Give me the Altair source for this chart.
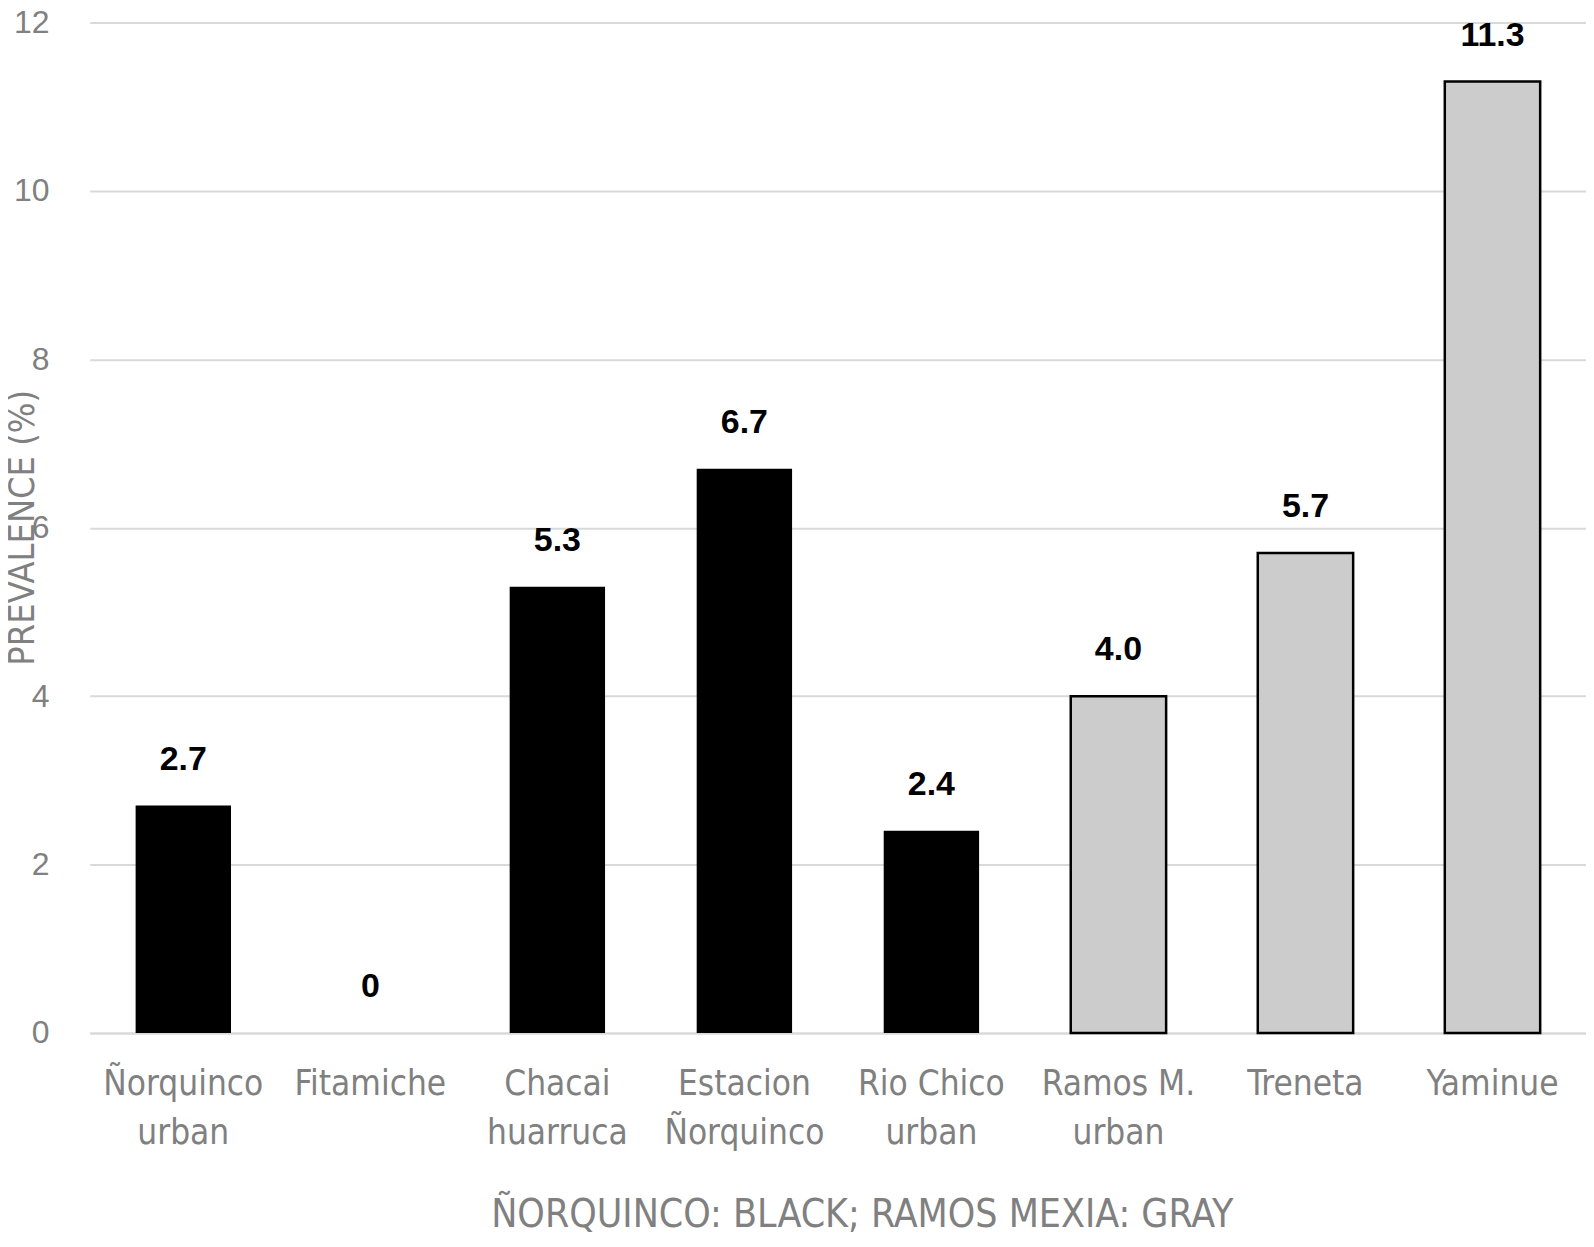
import altair as alt
import pandas as pd

categories = ["Ñorquinco|urban", "Fitamiche", "Chacai|huarruca", "Estacion|Ñorquinco",
              "Rio Chico|urban", "Ramos M.|urban", "Treneta", "Yaminue"]
values = [2.7, 0, 5.3, 6.7, 2.4, 4.0, 5.7, 11.3]
value_labels = ["2.7", "0", "5.3", "6.7", "2.4", "4.0", "5.7", "11.3"]
groups = ["Ñorquinco", "Ñorquinco", "Ñorquinco", "Ñorquinco", "Ñorquinco",
          "Ramos Mexia", "Ramos Mexia", "Ramos Mexia"]
y_ticks = [0, 2, 4, 6, 8, 10, 12]

df = pd.DataFrame({"cat": categories, "value": values, "lab": value_labels, "group": groups})

NARROW = "Liberation Sans Narrow, DejaVu Sans Condensed, Liberation Sans, sans-serif"
GRAY_TXT = "#808080"

x_enc = alt.X(
    "cat:N", sort=categories,
    scale=alt.Scale(paddingInner=0.49, paddingOuter=0.245),
    axis=alt.Axis(
        labelExpr="split(datum.label, '|')", labelAngle=0, labelFont=NARROW,
        labelFontSize=35, labelColor=GRAY_TXT, labelLineHeight=49, labelPadding=34,
        ticks=False, tickSize=0, domain=True, domainColor="#d9d9d9", domainWidth=2,
        title="ÑORQUINCO: BLACK;  RAMOS MEXIA: GRAY", titleFont=NARROW, titleFontSize=39,
        titleFontWeight="normal", titleColor=GRAY_TXT, titleX=774, titleY=194,
        titleAlign="center", titleBaseline="alphabetic", grid=False,
    ),
)
y_enc = alt.Y(
    "value:Q", scale=alt.Scale(domain=[0, 12], nice=False),
    axis=alt.Axis(
        values=y_ticks, format="d", labelFont="Liberation Sans", labelFontSize=32,
        labelColor=GRAY_TXT, labelPadding=41, ticks=False, tickSize=0, domain=False,
        grid=True, gridColor="#d9d9d9", gridWidth=2,
        title="PREVALENCE (%)", titleFont=NARROW, titleFontSize=36, titleFontWeight="normal",
        titleColor=GRAY_TXT, titleAngle=-90, titleX=-67, titleY=506,
        titleAlign="center", titleBaseline="middle",
    ),
)

bars = alt.Chart(df).mark_bar(stroke="black").encode(
    x=x_enc, y=y_enc,
    color=alt.Color("group:N", scale=alt.Scale(domain=["Ñorquinco", "Ramos Mexia"],
                                               range=["#000000", "#cccccc"]), legend=None),
    strokeWidth=alt.StrokeWidth("group:N", scale=alt.Scale(domain=["Ñorquinco", "Ramos Mexia"],
                                                           range=[0, 2.5]), legend=None),
)

text = alt.Chart(df).mark_text(dy=-46, font="Liberation Sans", fontSize=34, fontWeight="bold",
                               color="black", baseline="middle").encode(
    x=alt.X("cat:N", sort=categories), y="value:Q", text="lab:N"
)

chart = (bars + text).properties(
    width=1500, height=1013,
    autosize=alt.AutoSizeParams(type="none"),
    padding={"left": 82, "top": 13, "right": 0, "bottom": 202},
).configure_view(stroke=None)

chart.save("out.html", embed_options={"renderer": "svg", "actions": False})
